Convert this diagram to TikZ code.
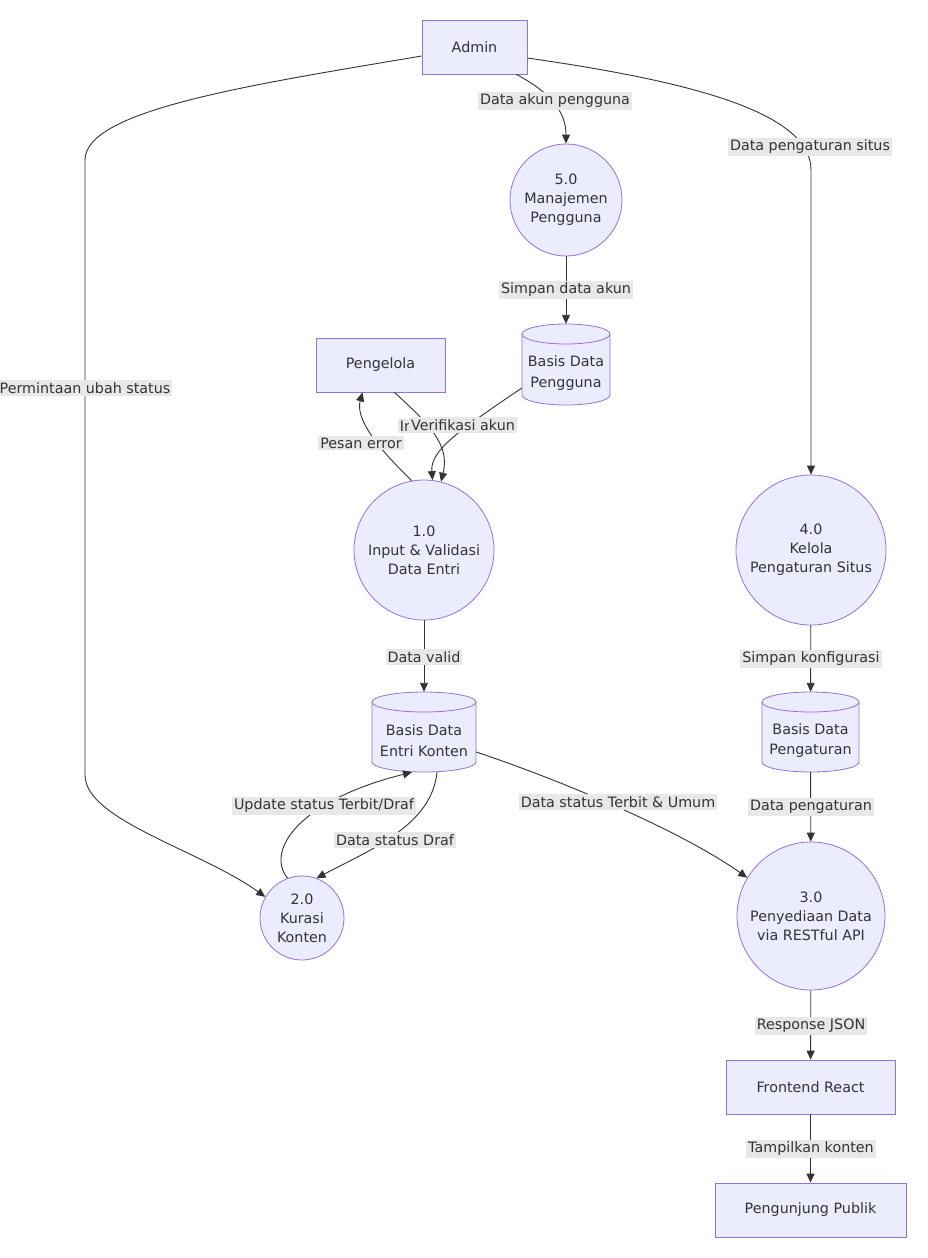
\documentclass[tikz,border=0pt]{standalone}
\usepackage{fontspec}
\setmainfont{DejaVu Sans}
\usetikzlibrary{arrows.meta}
\definecolor{nfill}{HTML}{ECECFF}
\definecolor{nline}{HTML}{9370DB}
\definecolor{eline}{HTML}{333333}
\definecolor{lbg}{HTML}{E8E8E8}
\definecolor{txtc}{HTML}{333333}
\newcommand\dbcyl[6]{%
  \path[draw=nline, fill=nfill, line width=0.8pt]
    ({#2-#4/2},{#3+#5/2-10}) -- ({#2-#4/2},{#3-#5/2+10})
    arc[start angle=180,end angle=360,x radius={#4/2},y radius=10]
    -- ({#2+#4/2},{#3+#5/2-10})
    arc[start angle=0,end angle=180,x radius={#4/2},y radius=10] -- cycle;
  \draw[nline, line width=0.8pt] ({#2-#4/2},{#3+#5/2-10})
    arc[start angle=180,end angle=360,x radius={#4/2},y radius=10];
  \node[minimum width=#4, minimum height=#5, inner sep=0] (#1) at (#2,#3) {};
  \node[align=center, inner sep=0, font=\fontsize{14.3}{20.5}\selectfont] (#1t) at (#2,{#3-8.5}) {#6};}
\begin{document}
\begin{tikzpicture}[x=1pt,y=1pt,
  every node/.style={font=\fontsize{14.3}{19}\selectfont, text=txtc},
  box/.style={draw=nline, fill=nfill, line width=0.8pt, minimum height=54, align=center},
  proc/.style={circle, draw=nline, fill=nfill, line width=0.8pt, align=center, inner sep=0},
  lbl/.style={fill=lbg, inner xsep=2pt, inner ysep=2pt},
  flow/.style={draw=eline, line width=0.9pt, -{Triangle[length=9pt,width=8pt]}},
]
\useasboundingbox (0,0) rectangle (927,-1258);
\fill[white] (0,0) rectangle (927,-1258);

% nodes
\node[box, minimum width=105] (admin) at (474.5,-47) {Admin};
\node[proc, minimum size=112] (p5) at (566,-200) {5.0\\Manajemen\\Pengguna};
\node[box, minimum width=129] (peng) at (380.5,-365) {Pengelola};
\node[proc, minimum size=140] (p1) at (424,-550) {1.0\\Input \& Validasi\\Data Entri};
\node[proc, minimum size=84] (p2) at (302,-918) {2.0\\Kurasi\\Konten};
\node[proc, minimum size=150] (p4) at (811,-550) {4.0\\Kelola\\Pengaturan Situs};
\node[proc, minimum size=148] (p3) at (811,-916) {3.0\\Penyediaan Data\\via RESTful API};
\node[box, minimum width=169] (fe) at (810.5,-1087) {Frontend React};
\node[box, minimum width=191] (pub) at (810.5,-1210) {Pengunjung Publik};
\dbcyl{dbu}{566}{-364.5}{88}{81}{Basis Data\\Pengguna}
\dbcyl{dbe}{424}{-732}{104}{80}{Basis Data\\Entri Konten}
\dbcyl{dbp}{810.5}{-732}{97}{80}{Basis Data\\Pengaturan}

% edges
\draw[flow] ([xshift=-11]admin.south east) .. controls (555,-95) and (566,-115) .. (p5.north);
\draw[flow] ([yshift=-11]admin.east) .. controls (680,-80) and (811,-110) .. (811,-170) -- (p4.north);
\draw[flow] ([yshift=-9]admin.west) .. controls (250,-85) and (85,-110) .. (85,-160) -- (85,-775) .. controls (85,-820) and (200,-850) .. (p2.150);
\draw[flow] (p5) -- (dbu);
\draw[flow] ([xshift=-51]peng.south east) .. controls (430,-425) and (450,-445) .. (p1.76);
\draw[flow] ([yshift=-23.5]dbu.west) .. controls (460,-430) and (430,-450) .. (p1.83);
\draw[flow] (p1.100) .. controls (380,-450) and (355,-420) .. ([xshift=-18]peng.south);
\draw[flow] (p1) -- (dbe);
\draw[flow] ([xshift=13]dbe.south) .. controls (432,-825) and (370,-850) .. (p2.70);
\draw[flow] (p2.110) .. controls (265,-850) and (300,-800) .. ([xshift=-12]dbe.south);
\draw[flow] ([yshift=-20]dbe.east) .. controls (560,-780) and (680,-830) .. (p3.149);
\draw[flow] (p4) -- (dbp);
\draw[flow] (dbp) -- (p3);
\draw[flow] (p3) -- (fe);
\draw[flow] (fe) -- (pub);

% labels
\node[lbl] (l1) at (555,-101) {Data akun pengguna};
\node[lbl] (l2) at (810,-147) {Data pengaturan situs};
\node[lbl] (l3) at (85,-388) {Permintaan ubah status};
\node[lbl] (l4) at (566,-290) {Simpan data akun};
\node[lbl] (l5) at (406.5,-426) {In};
\node[lbl] (l6) at (463,-425) {Verifikasi akun};
\node[lbl] (l7) at (361,-443) {Pesan error};
\node[lbl] (l8) at (424,-657) {Data valid};
\node[lbl] (l9) at (324,-806) {Update status Terbit/Draf};
\node[lbl] (l10) at (395,-840) {Data status Draf};
\node[lbl] (l11) at (618,-802) {Data status Terbit \& Umum};
\node[lbl] (l12) at (811,-659) {Simpan konfigurasi};
\node[lbl] (l13) at (811,-807) {Data pengaturan};
\node[lbl] (l14) at (811,-1026) {Response JSON};
\node[lbl] (l15) at (811,-1149) {Tampilkan konten};
\end{tikzpicture}
\end{document}
